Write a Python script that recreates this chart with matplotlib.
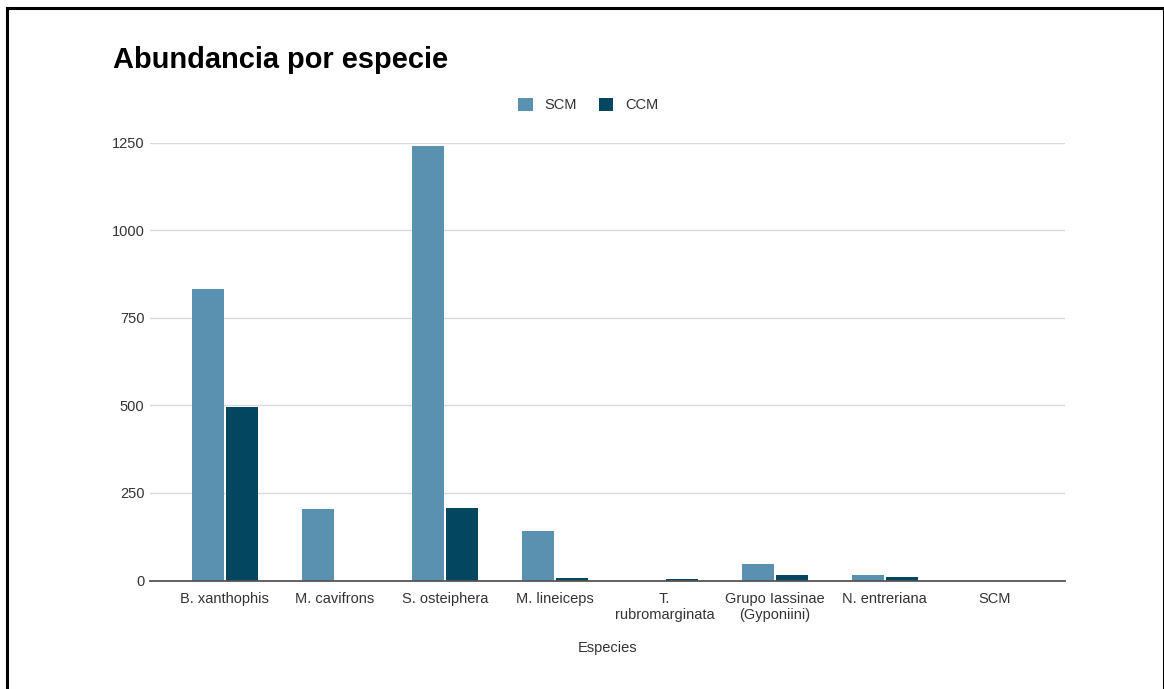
import matplotlib
matplotlib.use("Agg")
import matplotlib.pyplot as plt
from matplotlib.lines import Line2D
from matplotlib.patches import Patch
import numpy as np

plt.rcParams['font.family'] = ['Liberation Sans', 'DejaVu Sans']

# Data
especies = ["B. xanthophis", "M. cavifrons", "S. osteiphera", "M. lineiceps",
            "T.\nrubromarginata", "Grupo Iassinae\n(Gyponiini)", "N. entreriana", "SCM"]
scm = [831, 204, 1239, 142, 0, 46, 15, 0]
ccm = [495, 0, 207, 7, 4, 15, 11, 0]
y_ticks = [0, 250, 500, 750, 1000, 1250]

col_scm = "#5a91b0"
col_ccm = "#02465f"
txt_col = "#333333"

W, H = 1164, 689
fig = plt.figure(figsize=(W / 100, H / 100), dpi=100)
fig.patch.set_facecolor("white")

ax = fig.add_axes([150 / W, 1 - 580.5 / H, 915 / W, 438 / H])

x = np.arange(len(especies))
bw = 0.29
gap = 0.01
ax.bar(x - bw / 2 - gap, scm, width=bw, color=col_scm, zorder=3, label="SCM")
ax.bar(x + bw / 2 + gap, ccm, width=bw, color=col_ccm, zorder=3, label="CCM")

ax.set_xlim(-0.68, 7.64)
ax.set_ylim(0, 1250)
ax.set_yticks(y_ticks)
ax.set_yticklabels([str(v) for v in y_ticks])
ax.set_xticks(x)
ax.set_xticklabels(especies, linespacing=1.2)

ax.grid(axis="y", color="#d9d9d9", linewidth=1.0, zorder=0)
ax.set_axisbelow(True)
for side in ["top", "right", "left"]:
    ax.spines[side].set_visible(False)
ax.spines["bottom"].set_color("#555555")
ax.spines["bottom"].set_linewidth(1.3)
ax.spines["bottom"].set_zorder(4)
ax.tick_params(axis="both", length=0, labelsize=10.5, colors=txt_col)
ax.tick_params(axis="x", pad=8)
ax.tick_params(axis="y", pad=4)

ax.set_xlabel("Especies", fontsize=10.5, color=txt_col, labelpad=14)

fig.text(113 / W, 1 - 60 / H, "Abundancia por especie", fontsize=20.9,
         fontweight="bold", color="#000000", va="center", ha="left")

handles = [Patch(facecolor=col_scm, edgecolor="none"),
           Patch(facecolor=col_ccm, edgecolor="none")]
fig.legend(handles, ["SCM", "CCM"], loc="center", bbox_to_anchor=(588 / W, 1 - 105 / H),
           ncol=2, frameon=False, fontsize=10.5, handlelength=1.0, handleheight=1.0,
           handletextpad=0.8, columnspacing=1.5, labelcolor=txt_col)

# Outer frame
frame_kw = dict(color="black", linewidth=2.2, transform=fig.transFigure)
fig.add_artist(Line2D([7 / W, 7 / W], [0, 1 - 8 / H], **frame_kw))
fig.add_artist(Line2D([7 / W, 1], [1 - 8 / H, 1 - 8 / H], **frame_kw))
fig.add_artist(Line2D([1163.5 / W, 1163.5 / W], [0, 1 - 8 / H], **frame_kw))

fig.savefig("out.png", dpi=100, facecolor="white")
